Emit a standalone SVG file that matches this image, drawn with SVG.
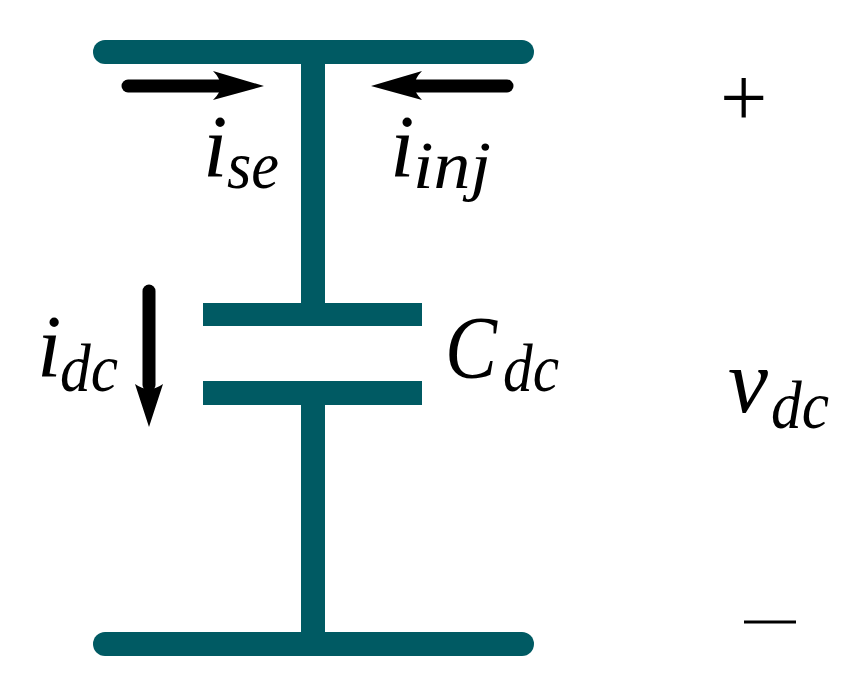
<svg xmlns="http://www.w3.org/2000/svg" width="857" height="686" viewBox="0 0 857 686">
<style>
.w{stroke:#005a63;fill:none;stroke-width:24}
.r{stroke:#005a63;fill:none;stroke-width:24;stroke-linecap:round}
.a{stroke:#000;stroke-width:13;fill:none;stroke-linecap:round}
text{font-family:"Liberation Serif","DejaVu Serif",serif;fill:#000}
.i{font-style:italic;font-size:88px}
.s{font-style:italic;font-size:68px}
</style>
<rect width="857" height="686" fill="#fff"/>
<g id="connectors">
<path class="r" d="M105 52H522"/>
<path class="r" d="M105 644H522"/>
<path class="w" d="M313 52V303"/>
<path class="w" d="M313 404V644"/>
<path class="a" d="M128 86H225"/>
<path d="M264 86L213 71Q228 86 213 100Z"/>
<path class="a" d="M507 86H410"/>
<path d="M371 86L422 71Q407 86 422 100Z"/>
<path class="a" d="M149 291V385"/>
<path d="M149 427L135 384Q149 394 163 384Z"/>
</g>
<g id="capacitor">
<rect x="203" y="303" width="219" height="23" fill="#005a63"/>
<rect x="203" y="381" width="219" height="24" fill="#005a63"/>
</g>
<g id="label-ise"><text class="i" x="203" y="176">i</text><text class="s" x="227" y="188" textLength="52" lengthAdjust="spacingAndGlyphs">se</text></g>
<g id="label-iinj"><text class="i" x="390" y="176">i</text><text class="s" x="413" y="188" textLength="78" lengthAdjust="spacingAndGlyphs">inj</text></g>
<g id="label-idc"><text class="i" x="37" y="376">i</text><text class="s" x="60" y="391" textLength="58" lengthAdjust="spacingAndGlyphs">dc</text></g>
<g id="label-cdc"><text class="i" x="445" y="377" textLength="52" lengthAdjust="spacingAndGlyphs">C</text><text class="s" x="503" y="391" textLength="56" lengthAdjust="spacingAndGlyphs">dc</text></g>
<g id="label-vdc"><text class="i" x="728" y="412" style="font-size:90px">v</text><text class="s" x="771" y="428" textLength="58" lengthAdjust="spacingAndGlyphs">dc</text></g>
<g id="plus"><text x="720" y="126" font-size="84">+</text></g>
<g id="minus"><path d="M744 622H796" stroke="#000" stroke-width="3"/></g>
</svg>
